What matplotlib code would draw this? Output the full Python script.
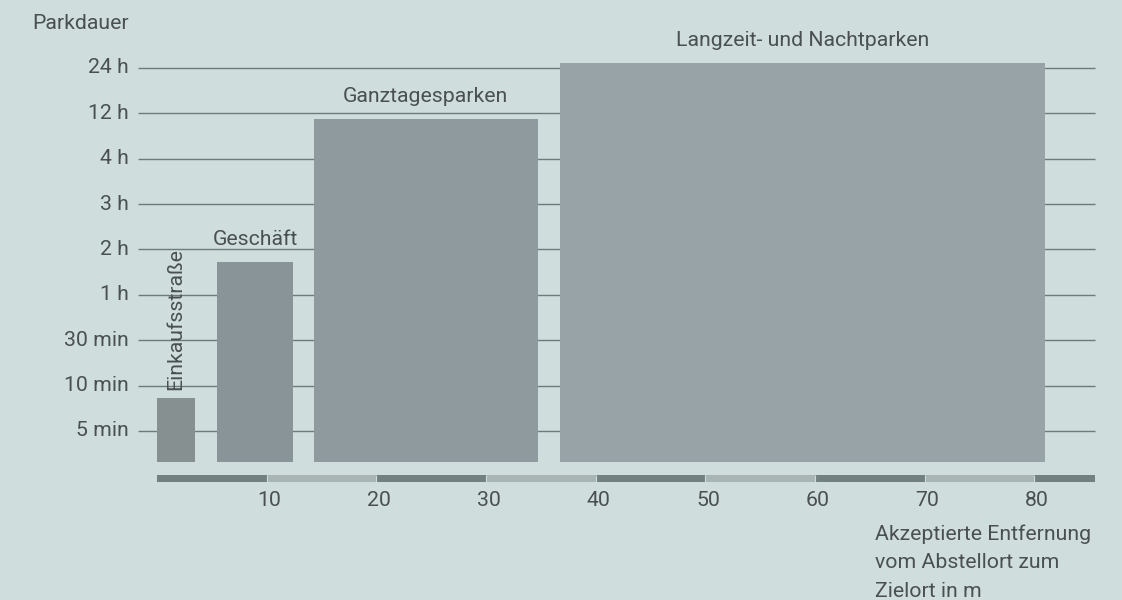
import matplotlib
matplotlib.use("Agg")
import matplotlib.pyplot as plt

# ---- data ----
y_levels = ["5 min", "10 min", "30 min", "1 h", "2 h", "3 h", "4 h", "12 h", "24 h"]
x_ticks = [10, 20, 30, 40, 50, 60, 70, 80]
categories = ["Einkaufsstraße", "Geschäft", "Ganztagesparken", "Langzeit- und Nachtparken"]
dist_start = [0.0, 5.5, 14.3, 36.75]     # accepted distance from (m)
dist_end = [3.5, 12.4, 34.7, 81.0]       # accepted distance to (m)
duration = [0.73, 3.72, 6.87, 8.11]      # parking duration on level scale (0 = 5 min ... 8 = 24 h)
bar_colors = ["#879091", "#899498", "#8f9a9e", "#97a3a6"]
axis_max = 85.5

BG = "#cfdddd"
TXT = "#4a5051"
GRID = "#6e7b7b"
FONT = "Roboto"
FS = 15.3
FW = "normal"

px_per_m = 10.966
px_per_lvl = 45.4
x0_px = 157.0
y0_px = 431.0
W, H = 1122, 600

fig = plt.figure(figsize=(W / 100, H / 100), dpi=100, facecolor=BG)
ax = fig.add_axes([0, 0, 1, 1])
ax.set_facecolor(BG)
ax.set_xlim((0 - x0_px) / px_per_m, (W - x0_px) / px_per_m)
ax.set_ylim((y0_px - H) / px_per_lvl, y0_px / px_per_lvl)
ax.axis("off")

grid_left = -1.70
bar_bottom = -0.676

# gridlines
for i, lab in enumerate(y_levels):
    ax.hlines(i, grid_left, axis_max, color=GRID, lw=1.0, zorder=1)
    ax.text(-2.55, i, lab, ha="right", va="center", fontsize=FS, color=TXT,
            family=FONT, weight=FW)

# bars
for k, (s, e, d, c) in enumerate(zip(dist_start, dist_end, duration, bar_colors)):
    ax.bar(s, d - bar_bottom, width=e - s, bottom=bar_bottom, align="edge",
           color=c, lw=0, zorder=2)

# category labels
for k, (s, e, d, lab) in enumerate(zip(dist_start, dist_end, duration, categories)):
    cx = (s + e) / 2
    if k == 0:
        ax.text(cx, d + 0.17, lab, rotation=90, ha="center", va="bottom",
                fontsize=FS, color=TXT, family=FONT, weight=FW, zorder=3)
    else:
        ax.text(cx, d + 0.37, lab, ha="center", va="baseline",
                fontsize=FS, color=TXT, family=FONT, weight=FW, zorder=3)

# colored distance axis bar
seg_lo, seg_hi = -1.123, -0.969
edges = list(range(0, 90, 10))
for j, s in enumerate(edges):
    e = min(s + 10, axis_max)
    if s >= axis_max:
        break
    col = "#738080" if j % 2 == 0 else "#a9b5b5"
    ax.fill_between([s, e], seg_lo, seg_hi, color=col, lw=0, zorder=2)
    if j > 0:
        ax.vlines(s, seg_lo, seg_hi, color=BG, lw=0.8, zorder=3)

for t in x_ticks:
    ax.text(t + 0.25, -1.535, str(t), ha="center", va="center", fontsize=FS,
            color=TXT, family=FONT, weight=FW)

# axis titles
ax.text(-11.4, 8.85, "Parkdauer", ha="left", va="baseline", fontsize=FS,
        color=TXT, family=FONT, weight=FW)
xlab = ["Akzeptierte Entfernung", "vom Abstellort zum", "Zielort in m"]
for n, line in enumerate(xlab):
    ax.text(65.5, (y0_px - (540 + 28.5 * n)) / px_per_lvl, line, ha="left",
            va="baseline", fontsize=FS, color=TXT, family=FONT, weight=FW)

fig.savefig("out.png", dpi=100, facecolor=BG)
